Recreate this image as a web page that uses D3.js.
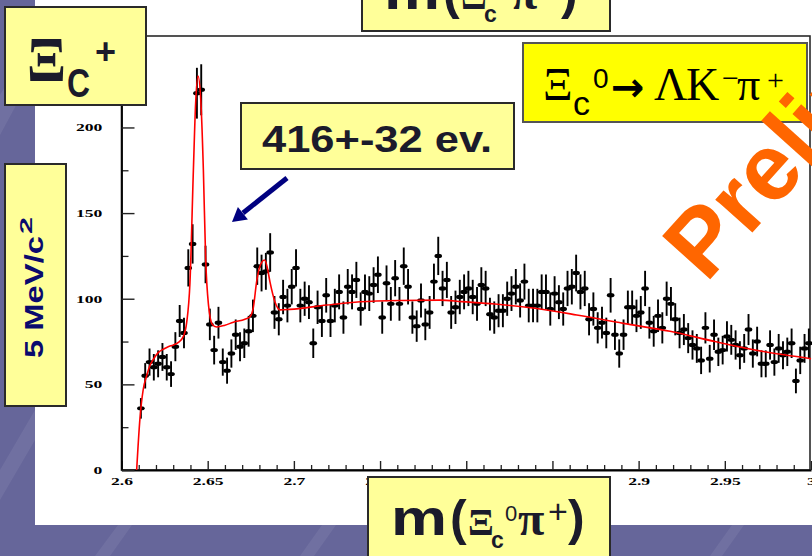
<!DOCTYPE html>
<html>
<head>
<meta charset="utf-8">
<script src="https://cdn.jsdelivr.net/npm/d3@7"></script>
<style>
  html, body { margin: 0; padding: 0; background: #66669a; overflow: hidden; }
  svg { display: block; }
</style>
</head>
<body>
<svg id="slide" width="812" height="556"></svg>
<script>
// ---- histogram: m(Xi_c0 pi+) bin centres (GeV/c^2) and entries per bin ----
const binMass = [
  2.61125, 2.61375, 2.61625, 2.61875, 2.62125, 2.62375, 2.62625, 2.62875, 2.63125, 2.63375,
  2.63625, 2.63875, 2.64125, 2.64375, 2.64625, 2.64875, 2.65125, 2.65375, 2.65625, 2.65875,
  2.66125, 2.66375, 2.66625, 2.66875, 2.67125, 2.67375, 2.67625, 2.67875, 2.68125, 2.68375,
  2.68625, 2.68875, 2.69125, 2.69375, 2.69625, 2.69875, 2.70125, 2.70375, 2.70625, 2.70875,
  2.71125, 2.71375, 2.71625, 2.71875, 2.72125, 2.72375, 2.72625, 2.72875, 2.73125, 2.73375,
  2.73625, 2.73875, 2.74125, 2.74375, 2.74625, 2.74875, 2.75125, 2.75375, 2.75625, 2.75875,
  2.76125, 2.76375, 2.76625, 2.76875, 2.77125, 2.77375, 2.77625, 2.77875, 2.78125, 2.78375,
  2.78625, 2.78875, 2.79125, 2.79375, 2.79625, 2.79875, 2.80125, 2.80375, 2.80625, 2.80875,
  2.81125, 2.81375, 2.81625, 2.81875, 2.82125, 2.82375, 2.82625, 2.82875, 2.83125, 2.83375,
  2.83625, 2.83875, 2.84125, 2.84375, 2.84625, 2.84875, 2.85125, 2.85375, 2.85625, 2.85875,
  2.86125, 2.86375, 2.86625, 2.86875, 2.87125, 2.87375, 2.87625, 2.87875, 2.88125, 2.88375,
  2.88625, 2.88875, 2.89125, 2.89375, 2.89625, 2.89875, 2.90125, 2.90375, 2.90625, 2.90875,
  2.91125, 2.91375, 2.91625, 2.91875, 2.92125, 2.92375, 2.92625, 2.92875, 2.93125, 2.93375,
  2.93625, 2.93875, 2.94125, 2.94375, 2.94625, 2.94875, 2.95125, 2.95375, 2.95625, 2.95875,
  2.96125, 2.96375, 2.96625, 2.96875, 2.97125, 2.97375, 2.97625, 2.97875, 2.98125, 2.98375,
  2.98625, 2.98875, 2.99125, 2.99375, 2.99625, 2.99875
];
const binCount = [
  36, 55, 63, 60, 62, 66, 60, 56, 72, 87,
  80, 118, 132, 220, 222, 120, 85, 70, 86, 63,
  58, 68, 79, 72, 74, 81, 90, 119, 115, 116,
  127, 92, 88, 101, 96, 107, 118, 96, 100, 98,
  74, 95, 87, 102, 87, 96, 104, 89, 107, 104,
  111, 94, 104, 103, 108, 114, 89, 109, 97, 112,
  97, 119, 107, 89, 84, 99, 85, 92, 110, 125,
  106, 111, 92, 95, 101, 104, 106, 101, 97, 108,
  106, 91, 89, 93, 93, 100, 103, 107, 99, 110,
  96, 96, 96, 104, 104, 94, 103, 98, 94, 106,
  107, 115, 104, 106, 88, 94, 83, 86, 80, 102,
  79, 68, 79, 95, 95, 90, 92, 106, 86, 81,
  90, 83, 100, 97, 88, 80, 82, 77, 73, 71,
  64, 83, 65, 79, 69, 70, 78, 76, 73, 67,
  71, 82, 68, 75, 62, 62, 73, 63, 71, 67,
  69, 74, 52, 64, 71, 74
];

// ---- fitted curve (threshold + two signal peaks + background), sampled ----
const fitMass = [
  2.6088, 2.6107, 2.6126, 2.6146, 2.6165, 2.6184, 2.6213, 2.6242, 2.6271, 2.6301,
  2.6330, 2.6359, 2.6378, 2.6397, 2.6417, 2.6430, 2.6444, 2.6461, 2.6475, 2.6488,
  2.6504, 2.6527, 2.6552, 2.6600, 2.6649, 2.6716, 2.6745, 2.6765, 2.6784, 2.6803,
  2.6830, 2.6844, 2.6861, 2.6891, 2.6920, 2.6977, 2.7190, 2.7384, 2.7616, 2.7848,
  2.7974, 2.8167, 2.8399, 2.8641, 2.8911, 2.9182, 2.9443, 2.9733, 3.0000
];
const fitCount = [
  0, 30, 47, 55, 61, 64.5, 68.5, 70.5, 72, 73,
  74.5, 78, 86, 109, 175, 214, 230, 214, 175, 124,
  97, 85, 83.5, 84.5, 86.3, 88, 89.5, 95, 110, 119,
  122.6, 119, 110, 98, 93.5, 93.8, 96.3, 98.2, 99, 99.2,
  98.3, 96.9, 94.4, 90.5, 85.6, 81, 75, 69, 65
];

// ---- axis ticks ----
const xTickValues = [2.6, 2.65, 2.7, 2.75, 2.8, 2.85, 2.9, 2.95, 3.0];
const xTickLabels = ["2.6", "2.65", "2.7", "2.75", "2.8", "2.85", "2.9", "2.95", "3"];
const xMinorTicks = [2.61, 2.62, 2.63, 2.64, 2.66, 2.67, 2.68, 2.69, 2.71, 2.72, 2.73, 2.74,
  2.76, 2.77, 2.78, 2.79, 2.81, 2.82, 2.83, 2.84, 2.86, 2.87, 2.88, 2.89,
  2.91, 2.92, 2.93, 2.94, 2.96, 2.97, 2.98, 2.99];
const yTickValues = [0, 50, 100, 150, 200];
const yTickLabels = ["0", "50", "100", "150", "200"];
const yMinorTicks = [25, 75, 125, 175, 225];

const SANS = "'Liberation Sans', Arial, Helvetica, sans-serif";
const SERIF = "'Liberation Serif', 'Times New Roman', Times, serif";
const INK = "#1b1b2b";

const svg = d3.select("#slide");
const W = 812, H = 556;

// ---------- slide backdrop ----------
svg.append("rect").attr("width", W).attr("height", H).attr("fill", "#66669a");
const streaks = [
  [[0, 95], [35, 35], [35, 70], [0, 135]],
  [[0, 470], [35, 410], [35, 440], [0, 500]],
  [[95, 556], [118, 525], [132, 525], [110, 556]],
  [[300, 556], [322, 525], [336, 525], [314, 556]],
  [[710, 556], [732, 525], [744, 525], [722, 556]]
];
svg.append("g").selectAll("polygon").data(streaks).join("polygon")
  .attr("points", d => d.map(p => p.join(",")).join(" "))
  .attr("fill", "#ffffff").attr("opacity", 0.07);

// white sheet holding the plot
svg.append("rect").attr("x", 35).attr("y", 0).attr("width", W - 35).attr("height", 525)
  .attr("fill", "#ffffff");

// ---------- plot ----------
const x = d3.scaleLinear().domain([2.6, 3.0]).range([121.5, 811]);
const y = d3.scaleLinear().domain([0, 253.4]).range([470, 36]);
const plot = svg.append("g");

// frame
plot.append("rect")
  .attr("x", x(2.6)).attr("y", y(253.4))
  .attr("width", 810 - x(2.6)).attr("height", y(0) - y(253.4))
  .attr("fill", "none").attr("stroke", "#2a2a2a").attr("stroke-width", 1.6);

function styleAxis(g) {
  g.select(".domain").attr("stroke", "#000").attr("stroke-width", 1.8);
  g.selectAll(".tick line").attr("stroke", "#222").attr("stroke-width", 1.4);
  g.selectAll("text")
    .attr("font-family", SERIF).attr("font-weight", "bold")
    .attr("font-size", 11).attr("fill", "#000")
    .attr("transform", "scale(1.6,1)");
}

// x axis: minor then major ticks
plot.append("g").attr("transform", `translate(0,${y(0)})`)
  .call(d3.axisBottom(x).tickValues(xMinorTicks).tickSizeInner(-5).tickSizeOuter(0).tickFormat(""))
  .call(g => { g.select(".domain").remove(); g.selectAll(".tick line").attr("stroke", "#222").attr("stroke-width", 1.3); });
plot.append("g").attr("transform", `translate(0,${y(0)})`)
  .call(d3.axisBottom(x).tickValues(xTickValues).tickSizeInner(-9).tickSizeOuter(0)
    .tickPadding(7).tickFormat((d, i) => xTickLabels[i]))
  .call(styleAxis);

// y axis: minor then major ticks
plot.append("g").attr("transform", `translate(${x(2.6)},0)`)
  .call(d3.axisLeft(y).tickValues(yMinorTicks).tickSizeInner(-7).tickSizeOuter(0).tickFormat(""))
  .call(g => { g.select(".domain").remove(); g.selectAll(".tick line").attr("stroke", "#222").attr("stroke-width", 1.3); });
plot.append("g").attr("transform", `translate(${x(2.6)},0)`)
  .call(d3.axisLeft(y).tickValues(yTickValues).tickSizeInner(-13).tickSizeOuter(0)
    .tickPadding(12).tickFormat((d, i) => yTickLabels[i]))
  .call(styleAxis);

// data points with Poisson error bars
const bins = binMass.map((m, i) => ({ m, n: binCount[i] }));
plot.append("g").selectAll("line").data(bins).join("line")
  .attr("x1", d => x(d.m)).attr("x2", d => x(d.m))
  .attr("y1", d => y(d.n + Math.sqrt(d.n))).attr("y2", d => y(d.n - Math.sqrt(d.n)))
  .attr("stroke", "#000").attr("stroke-width", 1.9);
plot.append("g").selectAll("ellipse").data(bins).join("ellipse")
  .attr("cx", d => x(d.m)).attr("cy", d => y(d.n))
  .attr("rx", 3.8).attr("ry", 2.2).attr("fill", "#000");

// fit
const fit = fitMass.map((m, i) => ({ m, v: fitCount[i] }));
plot.append("path").datum(fit)
  .attr("d", d3.line().x(d => x(d.m)).y(d => y(d.v)).curve(d3.curveMonotoneX))
  .attr("fill", "none").attr("stroke", "#ff0000").attr("stroke-width", 1.6);

// ---------- slide annotations ----------
const notes = svg.append("g");

function box(x0, y0, w, h, fill, stroke) {
  notes.append("rect").attr("x", x0).attr("y", y0).attr("width", w).attr("height", h)
    .attr("fill", fill).attr("stroke", stroke || "#2a2a2a").attr("stroke-width", 2);
}
function txt(str, x0, y0, opts) {
  const t = notes.append("text").attr("x", x0).attr("y", y0)
    .attr("font-family", opts.family || SANS)
    .attr("font-weight", opts.weight || "normal")
    .attr("font-size", opts.size)
    .attr("fill", opts.fill || INK)
    .text(str);
  if (opts.len) t.attr("textLength", opts.len).attr("lengthAdjust", "spacingAndGlyphs");
  if (opts.transform) t.attr("transform", opts.transform);
  return t;
}

// particle label, top left
box(5, 7, 141, 98, "#ffff99");
txt("\u039E", 27, 81, { family: SERIF, weight: "bold", size: 64, len: 39 });
txt("C", 67, 97, { weight: "bold", size: 40, len: 23 });
txt("+", 95, 64, { weight: "bold", size: 36 });

// mass label (used at the top edge and under the x axis)
function massLabel(dx, base, sup1, sup2) {
  txt("m", 391 + dx, base, { weight: "bold", size: 50, len: 56 });
  txt("(", 450 + dx, base, { weight: "bold", size: 50 });
  txt("\u039E", 468 + dx, base, { family: SERIF, weight: "bold", size: 38 });
  txt("c", 491 + dx, base + 13, { weight: "bold", size: 23 });
  txt(sup1, 505 + dx, base - 14, { size: 22 });
  txt("\u03C0", 518 + dx, base, { family: SERIF, weight: "bold", size: 48 });
  txt(sup2, 548 + dx, base - 12, { size: 34 });
  txt(")", 568 + dx, base, { weight: "bold", size: 50 });
}
box(362, -50, 248, 81, "#ffff99");
massLabel(-7, 9, "+", "\u2212");

// yield
box(241, 103, 273, 66, "#ffff99");
txt("416+-32 ev.", 262, 152, { weight: "bold", size: 37, len: 230 });

// arrow pointing at the peak
notes.append("line").attr("x1", 287).attr("y1", 178).attr("x2", 243).attr("y2", 213)
  .attr("stroke", "#000080").attr("stroke-width", 5);
notes.append("polygon").attr("points", "232,222 247.9,219.5 237.9,207").attr("fill", "#000080");

// decay channel
box(523, 43, 284, 79, "#ffff00", "#555555");
txt("\u039E", 543, 100, { family: SERIF, size: 46, fill: "#000" });
txt("c", 573, 115, { size: 34, fill: "#000" });
txt("0", 593, 88, { size: 28, fill: "#000" });
txt("\u2192", 611, 101, { family: "'DejaVu Sans', sans-serif", weight: "bold", size: 40, fill: "#000" });
txt("\u039B", 654, 100, { family: SERIF, size: 46, fill: "#000" });
txt("K", 686, 100, { family: SERIF, size: 46, fill: "#000" });
txt("\u2212", 722, 88, { family: SERIF, size: 30, fill: "#000" });
txt("\u03C0", 737, 100, { family: SERIF, size: 46, fill: "#000" });
txt("+", 767, 90, { family: SERIF, size: 30, fill: "#000" });

// y-axis unit
box(5, 164, 61, 242, "#ffff99");
txt("5 MeV/c", 0, 0, { weight: "bold", size: 26, len: 122, fill: "#0a0a6e", transform: "translate(43,358) rotate(-90)" });
txt("2", 0, 0, { weight: "bold", size: 17, len: 17, fill: "#0a0a6e", transform: "translate(32,234) rotate(-90)" });

// x-axis label
box(368, 477, 242, 110, "#ffff99");
massLabel(0, 535, "0", "+");

// status stamp
txt("Preliminary", 0, 0, { weight: "bold", size: 94, fill: "#ff6600", transform: "translate(706,284) rotate(-48)" });
</script>
</body>
</html>
